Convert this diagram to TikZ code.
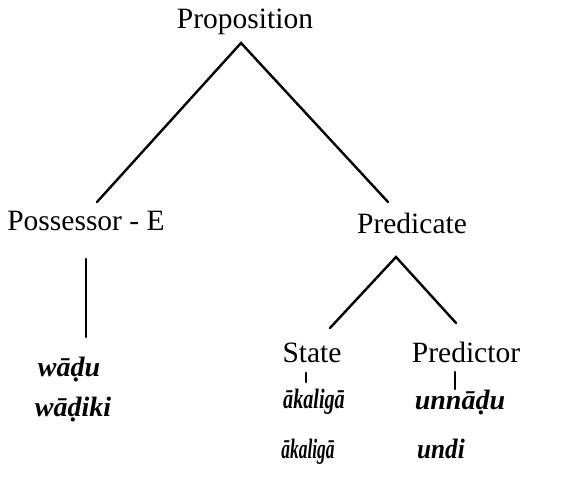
\documentclass[tikz,border=0pt]{standalone}
\usepackage{fontspec}
\usepackage{graphicx}
\setmainfont{Liberation Serif}
\tikzset{
  lbl/.style={anchor=base,inner sep=0pt,font=\fontsize{29.5}{35}\selectfont},
  wrd/.style={anchor=base,inner sep=0pt,font=\fontsize{28}{34}\selectfont\bfseries\itshape},
  branch/.style={line width=2.4pt,line cap=round,line join=miter}
}
\begin{document}
\begin{tikzpicture}[x=1pt,y=-1pt]
\useasboundingbox[fill=white] (0,0) rectangle (562,479);
% labels
\node[lbl] (prop) at (245,28) {Proposition};
\node[lbl] (poss) at (86,230) {Possessor - E};
\node[lbl] (pred) at (412,233) {Predicate};
\node[lbl] (state) at (312,362) {State};
\node[lbl] (predr) at (466,362) {Predictor};
\node[wrd] (w1) at (69,376) {wāḍu};
\node[wrd] (w2) at (73,416) {wāḍiki};
\node[wrd] (a1) at (314,408) {\scalebox{0.72}[1]{ākaligā}};
\node[wrd] (u1) at (460,409) {unnāḍu};
\node[wrd] (a2) at (308,458) {\scalebox{0.62}[1]{ākaligā}};
\node[wrd] (u2) at (441,458) {\scalebox{0.9}[1]{undi}};
% branch points
\coordinate (propTip) at (241,43);
\coordinate (possTop) at (97,202);
\coordinate (predTop) at (388,202);
\coordinate (possDown) at (86,259);
\coordinate (wordTop) at (86,337);
\coordinate (predTip) at (396,257);
\coordinate (stateDown) at (306,373);
\coordinate (stateTop) at (330,328);
\coordinate (predrTop) at (456,323);
\coordinate (a1Top) at (306,382);
\coordinate (predrDown) at (455,372);
\coordinate (u1Top) at (455,389);
% connectors
\draw[branch] (possTop) -- (propTip) -- (predTop);
\draw[branch] (possDown) -- (wordTop);
\draw[branch] (stateTop) -- (predTip) -- (predrTop);
\draw[branch] (stateDown) -- (a1Top);
\draw[branch] (predrDown) -- (u1Top);
\end{tikzpicture}
\end{document}
